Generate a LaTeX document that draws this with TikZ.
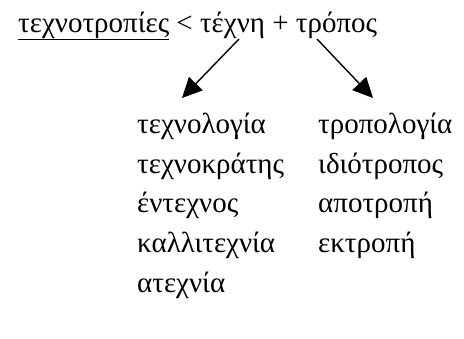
\documentclass[tikz,border=0pt]{standalone}
\usepackage{fontspec}
\setmainfont{Liberation Serif}
\usetikzlibrary{arrows.meta}

\tikzset{
    word/.style={anchor=base west, inner sep=0pt, font=\fontsize{29}{34}\selectfont},
    derive/.style={line width=1.4pt, -{Triangle[length=20pt,width=19pt]}}
}

\begin{document}
\begin{tikzpicture}[x=1pt,y=-1pt]
    \useasboundingbox (0,0) rectangle (464,338);
    % title line
    \node[word] (origin) at (18,32) {\underline{τεχνοτροπίες} < τέχνη + τρόπος};
    \coordinate (techneFoot) at (239,39);
    \coordinate (troposFoot) at (317,39);
    \coordinate (techneEnd) at (182,98);
    \coordinate (troposEnd) at (373,98);
    \draw[derive] (techneFoot) -- (techneEnd);
    \draw[derive] (troposFoot) -- (troposEnd);
    % left column
    \node[word] (t1) at (137,133) {τεχνολογία};
    \node[word] (t2) at (137,173) {τεχνοκράτης};
    \node[word] (t3) at (137,212) {έντεχνος};
    \node[word] (t4) at (137,252) {καλλιτεχνία};
    \node[word] (t5) at (137,292) {ατεχνία};
    % right column
    \node[word] (r1) at (318,133) {τροπολογία};
    \node[word] (r2) at (318,173) {ιδιότροπος};
    \node[word] (r3) at (318,212) {αποτροπή};
    \node[word] (r4) at (318,252) {εκτροπή};
\end{tikzpicture}
\end{document}
